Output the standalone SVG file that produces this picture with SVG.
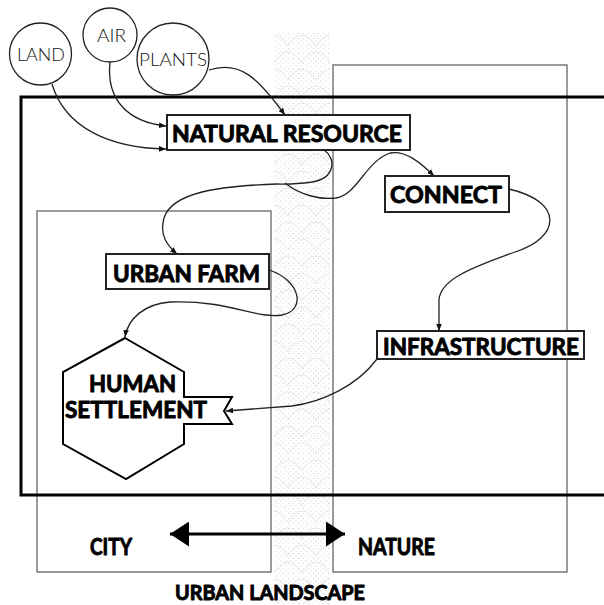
<svg xmlns="http://www.w3.org/2000/svg" width="604" height="605" viewBox="0 0 604 605">
<defs>
<pattern id="dots" width="5" height="5" patternUnits="userSpaceOnUse">
<circle cx="1" cy="1" r="0.5" fill="#bdbdbd"/>
<circle cx="3.5" cy="3.5" r="0.5" fill="#c8c8c8"/>
</pattern>
<pattern id="arcs" width="28" height="34" patternUnits="userSpaceOnUse" x="274" y="33">
<path d="M0,30 Q14,8 28,30 M-14,13 Q0,-9 14,13 M14,13 Q28,-9 42,13" fill="none" stroke="#dcdcdc" stroke-width="0.7"/>
</pattern>
<marker id="ah" viewBox="0 0 10 10" refX="10" refY="5" markerWidth="7" markerHeight="7" orient="auto" markerUnits="userSpaceOnUse">
<path d="M0,1 L10,5 L0,9 Z" fill="#111"/>
</marker>
<marker id="big" viewBox="0 0 10 10" refX="10" refY="5" markerWidth="19" markerHeight="25" orient="auto-start-reverse" markerUnits="userSpaceOnUse" preserveAspectRatio="none">
<path d="M0,0 L10,5 L0,10 Z" fill="#000"/>
</marker>
</defs>
<style>
.bold{font-family:Lato,"Open Sans","Liberation Sans",sans-serif;font-weight:bold;fill:#000;stroke:#000;stroke-width:0.9;stroke-linejoin:round;}
.thin{font-family:Lato,"Liberation Sans",sans-serif;font-weight:300;font-size:17px;fill:#111;}
.box{fill:#fff;stroke:#222;stroke-width:2;}
.zone{fill:none;stroke:#666;stroke-width:1.3;}
.conn{fill:none;stroke:#222;stroke-width:1.3;}
.circ{fill:#fff;stroke:#222;stroke-width:1.3;}
</style>
<rect width="604" height="605" fill="#fff"/>
<g id="strip">
<rect x="274" y="33" width="56" height="572" fill="url(#dots)"/>
<rect x="274" y="33" width="56" height="572" fill="url(#arcs)"/>
</g>
<g id="zones">
<rect id="city" class="zone" x="37" y="211" width="234" height="361"/>
<rect id="nature" class="zone" x="333" y="65" width="234" height="507"/>
<rect id="frame" x="21" y="97" width="600" height="398" fill="none" stroke="#000" stroke-width="3"/>
</g>
<g id="connectors">
<path class="conn" d="M52,84 C65,128 110,148 166,149" marker-end="url(#ah)"/>
<path class="conn" d="M110,62 C106,100 128,122 166,126" marker-end="url(#ah)"/>
<path class="conn" d="M209,70 C240,60 258,78 285,115" marker-end="url(#ah)"/>
<path class="conn" d="M324,150 C336,158 336,178 312,182 C290,185 285,184 277,184 C220,186 172,192 164,218 C159,236 168,246 177,254" marker-end="url(#ah)"/>
<path class="conn" d="M285,183 C300,195 320,200 336,198 C358,194 365,162 390,153 C405,150 420,162 434,176" marker-end="url(#ah)"/>
<path class="conn" d="M509,189 C565,202 560,238 515,252 C470,268 440,280 439,300 L439,331" marker-end="url(#ah)"/>
<path class="conn" d="M377,359 C357,386 322,402 292,406 L226,411" marker-end="url(#ah)"/>
<path class="conn" d="M269,270 C300,280 307,310 282,315 C255,319 230,300 170,302 C145,304 128,318 125,337" marker-end="url(#ah)"/>
<line x1="170" y1="534" x2="345" y2="534" stroke="#000" stroke-width="3" marker-start="url(#big)" marker-end="url(#big)"/>
</g>
<g id="land"><circle class="circ" cx="40.5" cy="54" r="31"/><text class="thin" x="41" y="61" text-anchor="middle" textLength="48" lengthAdjust="spacingAndGlyphs">LAND</text></g>
<g id="air"><circle class="circ" cx="110" cy="35" r="27"/><text class="thin" x="111.5" y="42" text-anchor="middle" textLength="29" lengthAdjust="spacingAndGlyphs">AIR</text></g>
<g id="plants"><circle class="circ" cx="173" cy="59" r="36"/><text class="thin" x="173" y="66" text-anchor="middle" textLength="68" lengthAdjust="spacingAndGlyphs">PLANTS</text></g>
<g id="natural-resource"><rect class="box" x="167" y="115" width="243" height="35"/><text class="bold" x="287" y="142" font-size="22" text-anchor="middle" textLength="230" lengthAdjust="spacingAndGlyphs">NATURAL RESOURCE</text></g>
<g id="connect"><rect class="box" x="385" y="176" width="124" height="36"/><text class="bold" x="446" y="203" font-size="22" text-anchor="middle" textLength="112" lengthAdjust="spacingAndGlyphs">CONNECT</text></g>
<g id="urban-farm"><rect class="box" x="106" y="254" width="163" height="35"/><text class="bold" x="186.5" y="282" font-size="22" text-anchor="middle" textLength="147" lengthAdjust="spacingAndGlyphs">URBAN FARM</text></g>
<g id="infrastructure"><rect class="box" x="377" y="331" width="207" height="28"/><text class="bold" x="481" y="355" font-size="22" text-anchor="middle" textLength="196" lengthAdjust="spacingAndGlyphs">INFRASTRUCTURE</text></g>
<g id="human-settlement">
<polygon points="125,338 184,372 184,397 232,397 224,411 232,424 184,424 184,444 126,479 63,444 63,372" fill="#fff" stroke="#000" stroke-width="2"/>
<text class="bold" x="132.5" y="392" font-size="22" text-anchor="middle" textLength="87" lengthAdjust="spacingAndGlyphs">HUMAN</text>
<text class="bold" x="136" y="418" font-size="22" text-anchor="middle" textLength="142" lengthAdjust="spacingAndGlyphs">SETTLEMENT</text>
</g>
<g id="labels">
<text class="bold" x="111" y="555" font-size="22" text-anchor="middle" textLength="42" lengthAdjust="spacingAndGlyphs">CITY</text>
<text class="bold" x="396.5" y="555" font-size="22" text-anchor="middle" textLength="77" lengthAdjust="spacingAndGlyphs">NATURE</text>
<text class="bold" x="270" y="600" font-size="20" text-anchor="middle" textLength="190" lengthAdjust="spacingAndGlyphs">URBAN LANDSCAPE</text>
</g>
</svg>
